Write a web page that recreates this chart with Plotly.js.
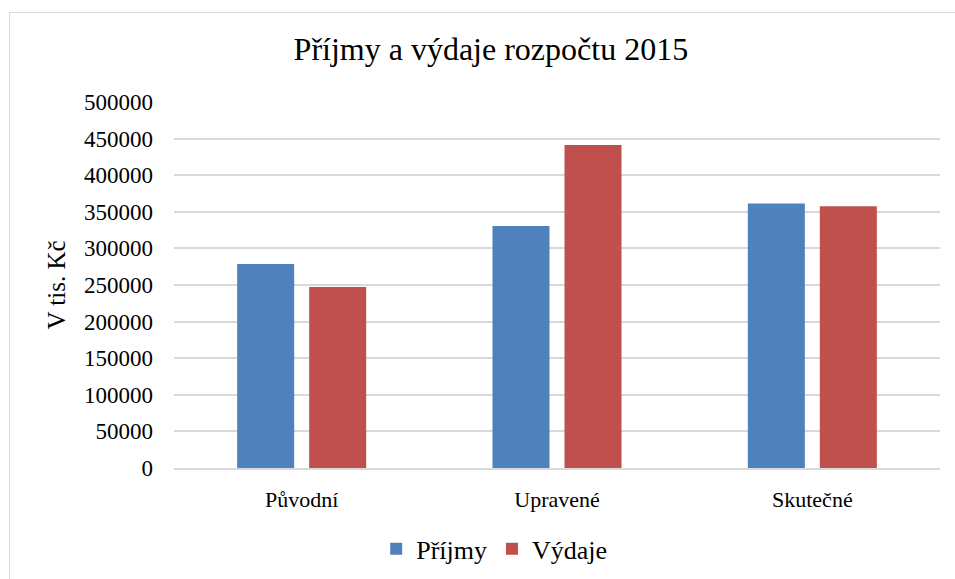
<!DOCTYPE html>
<html>
<head>
<meta charset="utf-8">
<script src="https://cdn.plot.ly/plotly-3.0.1.min.js"></script>
<style>
html,body{margin:0;padding:0;background:#fff;}
#chart{width:955px;height:579px;position:relative;}
#frame{position:absolute;left:9px;top:12px;width:2000px;height:2000px;border-left:1px solid #d9d9d9;border-top:1px solid #d9d9d9;pointer-events:none;}
#wrap{position:relative;width:955px;height:579px;overflow:hidden;}
</style>
</head>
<body>
<div id="wrap"><div id="chart"></div><div id="frame"></div></div>
<script>
const categories = ["Původní", "Upravené", "Skutečné"];
const seriesNames = ["Příjmy", "Výdaje"];
const prijmy = [278600, 330500, 361400];
const vydaje = [247300, 441400, 357700];
const yTicks = [0, 50000, 100000, 150000, 200000, 250000, 300000, 350000, 400000, 450000, 500000];

const serif = "Liberation Serif";
const traces = [
  {type: "bar", name: seriesNames[0], x: categories, y: prijmy, marker: {color: "#4F81BD"}, hoverinfo: "none"},
  {type: "bar", name: seriesNames[1], x: categories, y: vydaje, marker: {color: "#C0504D"}, hoverinfo: "none"}
];
const layout = {
  width: 955, height: 579,
  margin: {l: 174, r: 15, t: 102, b: 111, autoexpand: false},
  paper_bgcolor: "rgba(0,0,0,0)", plot_bgcolor: "#fff",
  font: {family: serif, color: "#000"},
  title: {text: "Příjmy a výdaje rozpočtu 2015", font: {family: serif, size: 32, color: "#000"}, x: 0.514, xanchor: "center", y: 0.915, yanchor: "middle"},
  barmode: "group", bargap: 0.436, bargroupgap: 0.208,
  xaxis: {type: "category", tickfont: {family: serif, size: 22, color: "#000"}, ticklabelstandoff: 11, showgrid: false, showline: true, linecolor: "#d9d9d9", linewidth: 2, ticks: "", zeroline: false},
  yaxis: {range: [0, 500000], tickvals: yTicks, ticktext: yTicks.map(String), tickfont: {family: serif, size: 23, color: "#000"}, ticklabelstandoff: 20, gridcolor: "#d9d9d9", gridwidth: 2, zeroline: false, showline: false, ticks: "",
    title: {text: "V tis. Kč", font: {family: serif, size: 25, color: "#000"}, standoff: 11}},
  showlegend: true,
  legend: {orientation: "h", x: 0.418, xanchor: "center", y: -0.221, yanchor: "middle", font: {family: serif, size: 26, color: "#000"}, itemwidth: 30, traceorder: "normal"}
};
Plotly.newPlot("chart", traces, layout, {staticPlot: true, displayModeBar: false});
</script>
</body>
</html>
